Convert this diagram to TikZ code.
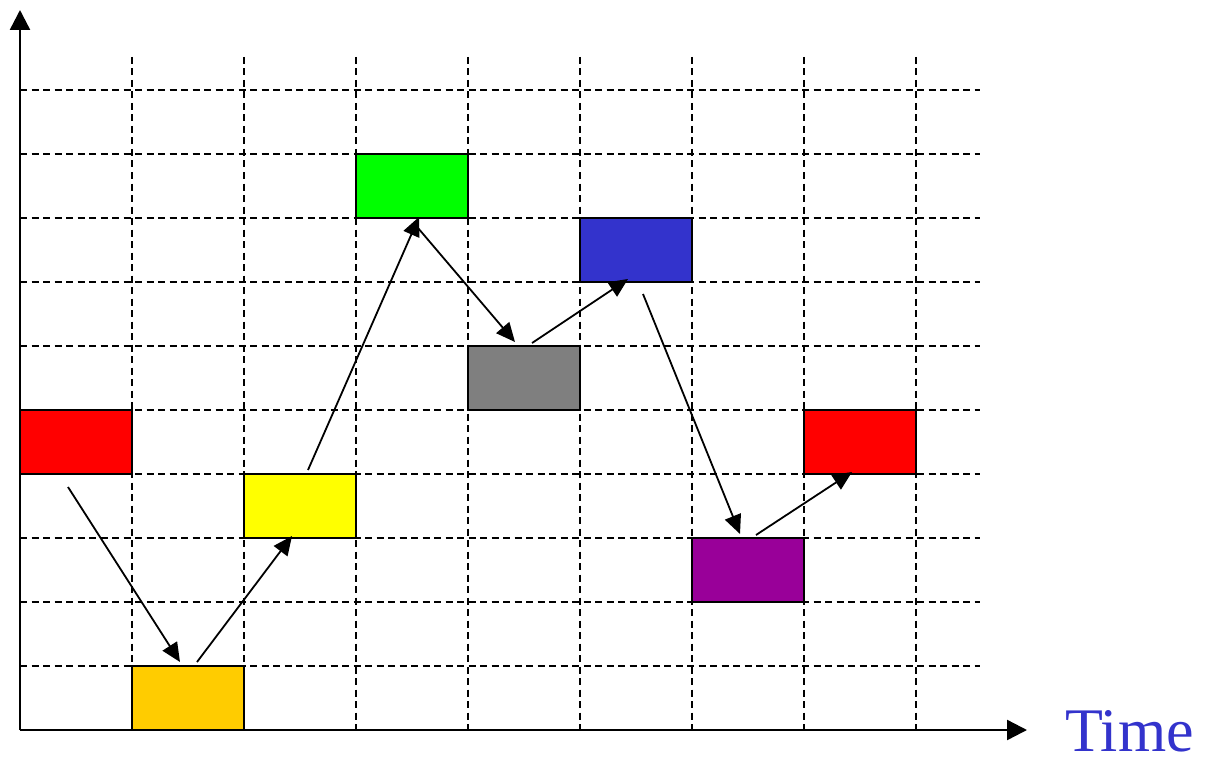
\documentclass[tikz,border=0pt]{standalone}
\usepackage{fontspec}
\setmainfont{Liberation Serif}
\usepackage{xcolor}
\usetikzlibrary{arrows.meta}

\definecolor{slotred}{HTML}{FF0000}
\definecolor{slotorange}{HTML}{FFCC00}
\definecolor{slotyellow}{HTML}{FFFF00}
\definecolor{slotgreen}{HTML}{00FF00}
\definecolor{slotgray}{HTML}{7F7F7F}
\definecolor{slotblue}{HTML}{3333CC}
\definecolor{slotpurple}{HTML}{990099}
\definecolor{timeblue}{HTML}{3333CC}

\begin{document}
\begin{tikzpicture}[x=1pt,y=-1pt,
  slot/.style={draw=black,line width=2.2pt,minimum width=112pt,minimum height=64pt,inner sep=0pt,outer sep=0pt},
  gridline/.style={dash pattern=on 7pt off 4.5pt,line width=1.8pt},
  axis/.style={line width=2.4pt,-{Triangle[length=20pt,width=20pt]}},
  hop/.style={line width=1.8pt,-{Triangle[length=19pt,width=17pt]}}]

\useasboundingbox (0,0) rectangle (1205,757);

% ===================== dashed grid =====================
\foreach \x in {132,244,...,916}{
  \draw[gridline] (\x,57) -- (\x,730);
}
\foreach \y in {90,154,...,666}{
  \draw[gridline] (20,\y) -- (980,\y);
}

% ===================== time slots =====================
\node[slot,fill=slotred]    (red1)   at (76,442)  {};
\node[slot,fill=slotorange] (orange) at (188,698) {};
\node[slot,fill=slotyellow] (yellow) at (300,506) {};
\node[slot,fill=slotgreen]  (green)  at (412,186) {};
\node[slot,fill=slotgray]   (gray)   at (524,378) {};
\node[slot,fill=slotblue]   (blue)   at (636,250) {};
\node[slot,fill=slotpurple] (purple) at (748,570) {};
\node[slot,fill=slotred]    (red2)   at (860,442) {};

% ===================== axes =====================
\coordinate (origin) at (20,730);
\coordinate (ytip) at (20,10);
\coordinate (xtip) at (1027,730);
\draw[axis] (origin) -- (ytip);
\draw[axis] (origin) -- (xtip);
\node[anchor=base west,inner sep=0pt,text=timeblue,font=\fontsize{62}{70}\selectfont] (timelabel) at (1065,751) {Time};

% ===================== hops between slots =====================
\draw[hop] ([xshift=-8pt,yshift=-13pt]red1.south) -- ([xshift=-8pt,yshift=4pt]orange.north);
\draw[hop] ([xshift=9pt,yshift=4pt]orange.north) -- ([xshift=-8pt,yshift=2pt]yellow.south);
\draw[hop] ([xshift=8pt,yshift=4pt]yellow.north) -- ([xshift=7pt,yshift=1pt]green.south);
\draw[hop] ([xshift=6pt,yshift=-10pt]green.south) -- ([xshift=-9pt,yshift=4pt]gray.north);
\draw[hop] ([xshift=8pt,yshift=3pt]gray.north) -- ([xshift=-8pt,yshift=3pt]blue.south);
\draw[hop] ([xshift=7pt,yshift=-12pt]blue.south) -- ([xshift=-8pt,yshift=4pt]purple.north);
\draw[hop] ([xshift=8pt,yshift=3pt]purple.north) -- ([xshift=-8pt,yshift=2pt]red2.south);

\end{tikzpicture}
\end{document}
